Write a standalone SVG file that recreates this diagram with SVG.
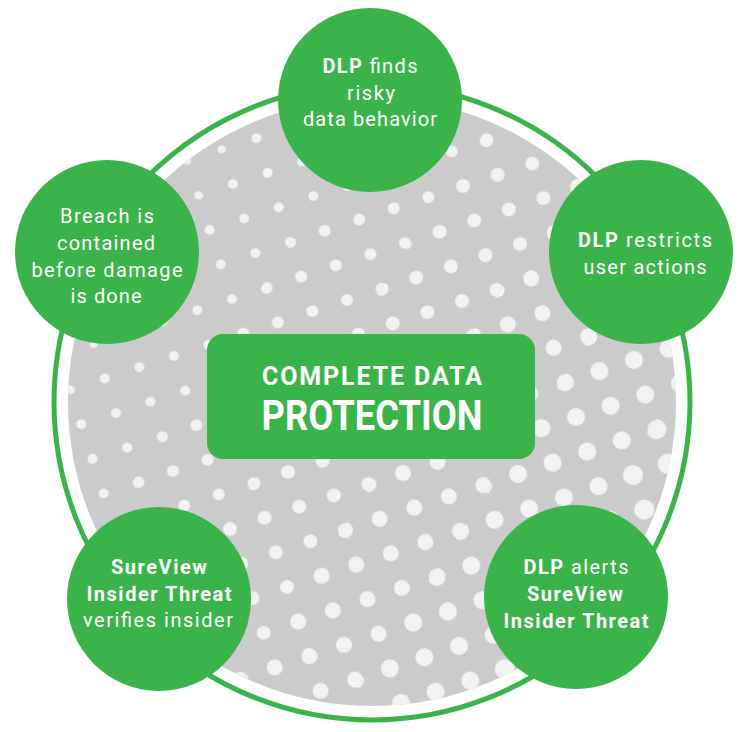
<svg xmlns="http://www.w3.org/2000/svg" width="750" height="732" viewBox="0 0 750 732">
  <style>
    .node { fill: #3AB34A; }
    .lbl { font-family: Roboto, "Liberation Sans", Arial, sans-serif; font-size: 20px; fill: #FFFFFF; text-anchor: middle; }
    .b { font-weight: 700; }
    .n { font-weight: 400; }
    .title { font-family: Roboto, "Liberation Sans", Arial, sans-serif; font-weight: 700; fill: #FFFFFF; text-anchor: middle; }
    .dot { fill: #F2F2F2; }
  </style>
  <defs>
    <clipPath id="discClip"><circle cx="372" cy="402" r="304"/></clipPath>
    <pattern id="d4" patternUnits="userSpaceOnUse" x="-18.185" y="-18.185" width="36.37" height="36.37" patternTransform="translate(288 472) rotate(-17.94)"><circle class="dot" cx="18.185" cy="18.185" r="4"/></pattern>
    <pattern id="d5" patternUnits="userSpaceOnUse" x="-18.185" y="-18.185" width="36.37" height="36.37" patternTransform="translate(288 472) rotate(-17.94)"><circle class="dot" cx="18.185" cy="18.185" r="5"/></pattern>
    <pattern id="d6" patternUnits="userSpaceOnUse" x="-18.185" y="-18.185" width="36.37" height="36.37" patternTransform="translate(288 472) rotate(-17.94)"><circle class="dot" cx="18.185" cy="18.185" r="6"/></pattern>
    <pattern id="d7" patternUnits="userSpaceOnUse" x="-18.185" y="-18.185" width="36.37" height="36.37" patternTransform="translate(288 472) rotate(-17.94)"><circle class="dot" cx="18.185" cy="18.185" r="7"/></pattern>
    <pattern id="d8" patternUnits="userSpaceOnUse" x="-18.185" y="-18.185" width="36.37" height="36.37" patternTransform="translate(288 472) rotate(-17.94)"><circle class="dot" cx="18.185" cy="18.185" r="8"/></pattern>
    <pattern id="d9" patternUnits="userSpaceOnUse" x="-18.185" y="-18.185" width="36.37" height="36.37" patternTransform="translate(288 472) rotate(-17.94)"><circle class="dot" cx="18.185" cy="18.185" r="9"/></pattern>
    <pattern id="d10" patternUnits="userSpaceOnUse" x="-18.185" y="-18.185" width="36.37" height="36.37" patternTransform="translate(288 472) rotate(-17.94)"><circle class="dot" cx="18.185" cy="18.185" r="10"/></pattern>
  </defs>

  <rect width="750" height="732" fill="#FFFFFF"/>

  <g id="background">
    <circle cx="372" cy="402" r="318" fill="none" stroke="#3AB34A" stroke-width="5"/>
    <circle cx="372" cy="402" r="304" fill="#CBCBCB"/>
    <g id="dots" clip-path="url(#discClip)">
      <polygon points="0,-2000 750,-2000 750,-632 0,500" fill="url(#d4)"/>
      <polygon points="0,500 750,-632 750,-450 0,682" fill="url(#d5)"/>
      <polygon points="0,682 750,-450 750,-268 0,864" fill="url(#d6)"/>
      <polygon points="0,864 750,-268 750,-87 0,1045" fill="url(#d7)"/>
      <polygon points="0,1045 750,-87 750,95 0,1227" fill="url(#d8)"/>
      <polygon points="0,1227 750,95 750,277 0,1409" fill="url(#d9)"/>
      <polygon points="0,1409 750,277 750,2000 0,2000" fill="url(#d10)"/>
    </g>
  </g>

  <g id="connectors"/>

  <g id="center">
    <rect class="node" x="207" y="334" width="328" height="125" rx="16"/>
    <text class="title" x="372" y="385" font-size="25" textLength="220">COMPLETE DATA</text>
    <text class="title" x="372" y="430" font-size="42" textLength="221" lengthAdjust="spacingAndGlyphs">PROTECTION</text>
  </g>

  <g id="node-top">
    <circle class="node" cx="370" cy="100" r="92"/>
    <text class="lbl" x="370" y="73" textLength="95"><tspan class="b">DLP</tspan><tspan class="n"> finds</tspan></text>
    <text class="lbl n" x="371" y="99.5" textLength="48">risky</text>
    <text class="lbl n" x="370" y="126" textLength="134">data behavior</text>
  </g>

  <g id="node-right">
    <circle class="node" cx="641" cy="252" r="92"/>
    <text class="lbl" x="645" y="247" textLength="134"><tspan class="b">DLP</tspan><tspan class="n"> restricts</tspan></text>
    <text class="lbl n" x="645" y="274" textLength="123">user actions</text>
  </g>

  <g id="node-bottom-right">
    <circle class="node" cx="576" cy="597" r="92"/>
    <text class="lbl" x="576" y="574" textLength="105"><tspan class="b">DLP</tspan><tspan class="n"> alerts</tspan></text>
    <text class="lbl b" x="575" y="601" textLength="96">SureView</text>
    <text class="lbl b" x="576" y="628" textLength="145">Insider Threat</text>
  </g>

  <g id="node-bottom-left">
    <circle class="node" cx="159" cy="599" r="92"/>
    <text class="lbl b" x="159" y="574" textLength="96">SureView</text>
    <text class="lbl b" x="159" y="601" textLength="145">Insider Threat</text>
    <text class="lbl n" x="158" y="627" textLength="150">verifies insider</text>
  </g>

  <g id="node-left">
    <circle class="node" cx="107" cy="252" r="92"/>
    <text class="lbl n" x="107" y="223" textLength="94">Breach is</text>
    <text class="lbl n" x="106" y="250" textLength="98">contained</text>
    <text class="lbl n" x="107" y="277" textLength="151">before damage</text>
    <text class="lbl n" x="106" y="303" textLength="71">is done</text>
  </g>
</svg>
